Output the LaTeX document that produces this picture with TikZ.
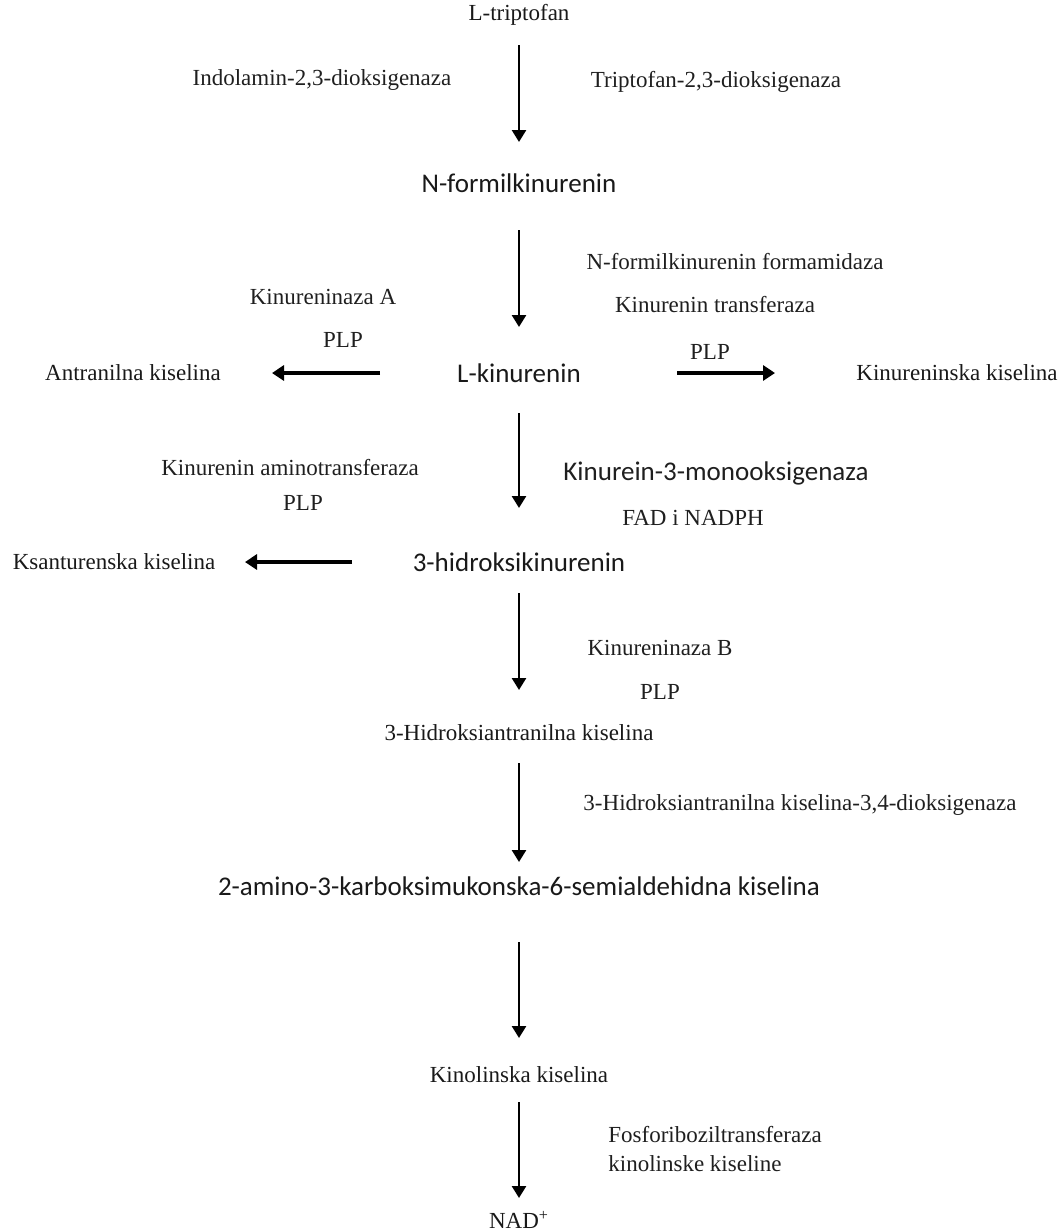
\documentclass[tikz,border=0pt]{standalone}
\usepackage{fontspec}
\setmainfont{Liberation Serif}
\newfontfamily\calibrifont{Carlito}
\usetikzlibrary{positioning, arrows.meta}

\begin{document}
\begin{tikzpicture}[x=0.5pt, y=-0.5pt, on grid,
	metab/.style={inner sep=0pt, text=black!90, font=\fontsize{11.5}{13}\selectfont},
	metabsans/.style={inner sep=0pt, text=black!90, font=\calibrifont\fontsize{13.5}{15}\selectfont},
	enzyme/.style={inner sep=0pt, text=black!88, font=\fontsize{11.5}{14}\selectfont},
	enzymesans/.style={inner sep=0pt, text=black!88, font=\calibrifont\fontsize{13.5}{15}\selectfont},
	reaction/.style={line width=1.3pt, -{Triangle[length=6pt, width=7pt]}},
	sidereaction/.style={line width=2pt, -{Triangle[length=6pt, width=7.5pt]}}]
	\useasboundingbox (0,0) rectangle (1062,1232);
	
	% main pathway
	\node[metab] (trp) at (519,15) {L-triptofan};
	\node[metabsans, below=84pt of trp] (nfk) {N-formilkinurenin};
	\node[metabsans, below=95pt of nfk] (lkyn) {L-kinurenin};
	\node[metabsans, below=94.5pt of lkyn] (hk) {3-hidroksikinurenin};
	\node[metab, below=85.5pt of hk] (haa) {3-Hidroksiantranilna kiselina};
	\node[metabsans, below=76.5pt of haa] (acms) {2-amino-3-karboksimukonska-6-semialdehidna kiselina};
	\node[metab, below=94.5pt of acms] (qa) {Kinolinska kiselina};
	\node[metab, below=72.5pt of qa] (nad) {NAD\textsuperscript{+}};
	
	% side products
	\node[metab, left=193pt of lkyn] (antr) {Antranilna kiselina};
	\node[metab, right=219pt of lkyn] (kyna) {Kinureninska kiselina};
	\node[metab, left=202.5pt of hk] (xa) {Ksanturenska kiselina};
	
	% enzymes and cofactors
	\node[enzyme] (ido) at (322,80) {Indolamin-2,3-dioksigenaza};
	\node[enzyme] (tdo) at (716,82) {Triptofan-2,3-dioksigenaza};
	\node[enzyme] (afmid) at (735,262) {N-formilkinurenin formamidaza};
	\node[enzyme] (kynua) at (323,297) {Kinureninaza A};
	\node[enzyme] (plpa) at (343,340) {PLP};
	\node[enzyme] (kat) at (715,305) {Kinurenin transferaza};
	\node[enzyme] (plpb) at (710,352) {PLP};
	\node[enzyme] (katb) at (290,468) {Kinurenin aminotransferaza};
	\node[enzyme] (plpc) at (303,503) {PLP};
	\node[enzymesans] (kmo) at (716,473) {Kinurein-3-monooksigenaza};
	\node[enzyme] (fad) at (693,518) {FAD i NADPH};
	\node[enzyme] (kynub) at (660,648) {Kinureninaza B};
	\node[enzyme] (plpd) at (660,692) {PLP};
	\node[enzyme] (haao) at (800,805) {3-Hidroksiantranilna kiselina-3,4-dioksigenaza};
	\node[enzyme, anchor=west, align=left] (qprt) at (608,1149) {Fosforiboziltransferaza\\kinolinske kiseline};
	
	\draw[reaction, shorten <=15pt, shorten >=20.5pt] (trp.center) -- (nfk.center);
	\draw[reaction, shorten <=23.5pt, shorten >=23pt] (nfk.center) -- (lkyn.center);
	\draw[reaction, shorten <=20pt, shorten >=27pt] (lkyn.center) -- (hk.center);
	\draw[reaction, shorten <=15.5pt, shorten >=21.5pt] (hk.center) -- (haa.center);
	\draw[reaction, shorten <=15pt, shorten >=12pt] (haa.center) -- (acms.center);
	\draw[reaction, shorten <=28pt, shorten >=18.5pt] (acms.center) -- (qa.center);
	\draw[reaction, shorten <=13.5pt, shorten >=11pt] (qa.center) -- (nad.center);
	
	\draw[sidereaction, shorten <=69.5pt, shorten >=69.5pt] (lkyn.center) -- (antr.center);
	\draw[sidereaction, shorten <=79pt, shorten >=91pt] (lkyn.center) -- (kyna.center);
	\draw[sidereaction, shorten <=83.5pt, shorten >=65.5pt] (hk.center) -- (xa.center);
\end{tikzpicture}
\end{document}
